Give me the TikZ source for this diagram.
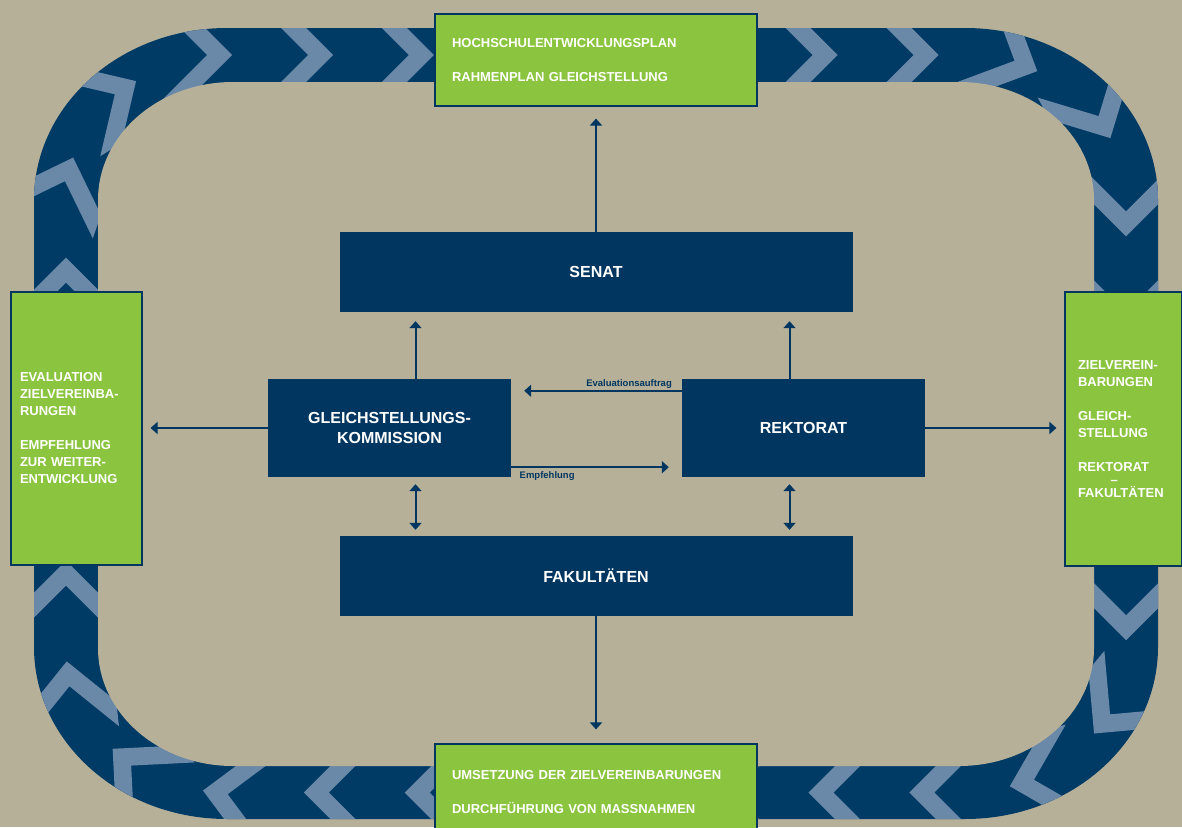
\documentclass[tikz,border=0pt]{standalone}
\usepackage{fontspec}
\setmainfont{Liberation Sans}
\usetikzlibrary{arrows.meta,decorations.markings}

\definecolor{sand}{RGB}{183,176,153}
\definecolor{navy}{RGB}{0,54,96}
\definecolor{ringblue}{RGB}{0,59,101}
\definecolor{chevblue}{RGB}{106,136,168}
\definecolor{leaf}{RGB}{139,197,63}

\tikzset{
  darkbox/.style={fill=navy, text=white, inner sep=0pt, align=center, font=\bfseries\fontsize{16}{20}\selectfont},
  greenbox/.style={fill=leaf, draw=navy, line width=1.2pt, text=white, align=left, inner ysep=0pt, font=\bfseries\fontsize{13}{17}\selectfont},
  arr/.style={draw=navy, line width=2pt, -{Triangle[length=7pt,width=12pt]}},
  dblarr/.style={draw=navy, line width=2pt, {Triangle[length=7pt,width=12pt]}-{Triangle[length=7pt,width=12pt]}},
  smalltext/.style={text=navy, font=\bfseries\fontsize{9.5}{11}\selectfont, inner sep=0pt},
  chevron/.style={fill=chevblue}
}

\begin{document}
\begin{tikzpicture}[x=1pt,y=-1pt]
\useasboundingbox (0,0) rectangle (1182,827);
\fill[sand] (0,0) rectangle (1182,827);

% ring with chevrons
\begin{scope}
\clip (227,28) -- (965,28) arc[start angle=-90,end angle=0,x radius=193,y radius=172] -- (1158,647) arc[start angle=0,end angle=90,x radius=193,y radius=172] -- (227,819) arc[start angle=90,end angle=180,x radius=193,y radius=172] -- (34,200) arc[start angle=180,end angle=270,x radius=193,y radius=172] -- cycle;
\fill[ringblue] (0,0) rectangle (1182,827);
\path[decorate, decoration={markings, mark=between positions 0 and 0.99 step 0.030303 with {\fill[chevron] (-45,45) -- (0,0) -- (-45,-45) -- (-70,-45) -- (-25,0) -- (-70,45) -- cycle;}}]
  (333,55) -- (962,55) arc[start angle=-90,end angle=0,x radius=164,y radius=145] -- (1126,647.5) arc[start angle=0,end angle=90,x radius=164,y radius=145] -- (230,792.5) arc[start angle=90,end angle=180,x radius=164,y radius=145] -- (66,200) arc[start angle=180,end angle=270,x radius=164,y radius=145] -- (333,55);
\end{scope}
\fill[sand] (233,82) -- (959,82) arc[start angle=-90,end angle=0,x radius=135,y radius=118] -- (1094,648) arc[start angle=0,end angle=90,x radius=135,y radius=118] -- (233,766) arc[start angle=90,end angle=180,x radius=135,y radius=118] -- (98,200) arc[start angle=180,end angle=270,x radius=135,y radius=118] -- cycle;

% green boxes
\node[greenbox, text width=288pt, inner xsep=17pt, minimum height=92pt] (plan) at (596,60)
  {HOCHSCHULENTWICKLUNGSPLAN\\[17pt]RAHMENPLAN GLEICHSTELLUNG};
\node[greenbox, text width=288pt, inner xsep=17pt, minimum height=96pt] (umsetzung) at (596,792)
  {UMSETZUNG DER ZIELVEREINBARUNGEN\\[17pt]DURCHFÜHRUNG VON MASSNAHMEN};
\node[greenbox, text width=113pt, inner xsep=9pt, minimum height=273pt] (evaluation) at (76.5,428.5)
  {EVALUATION\\ZIELVEREINBA-\\RUNGEN\\[17pt]EMPFEHLUNG\\ZUR WEITER-\\ENTWICKLUNG};
\node[greenbox, text width=91pt, inner xsep=13pt, minimum height=274pt] (ziel) at (1123.5,429)
  {ZIELVEREIN-\\BARUNGEN\\[17pt]GLEICH-\\STELLUNG\\[17pt]REKTORAT\\[-4pt]\hspace*{32.5pt}--\\[-4pt]FAKULTÄTEN};

% dark boxes
\node[darkbox, minimum width=513pt, minimum height=80pt] (senat) at (596,272) {SENAT};
\node[darkbox, minimum width=513pt, minimum height=80pt] (fak) at (596,576) {FAKULTÄTEN};
\node[darkbox, minimum width=243pt, minimum height=98pt] (gk) at (389.5,428) {GLEICHSTELLUNGS-\\KOMMISSION};
\node[darkbox, minimum width=243pt, minimum height=98pt] (rektorat) at (803.5,428) {REKTORAT};

% arrows
\draw[arr, shorten >=12pt] (senat.north) -- (plan.south);
\draw[arr, shorten >=14pt] (fak.south) -- (umsetzung.north);

\coordinate (gkup) at ([xshift=26pt]gk.north);
\coordinate (gkdn) at ([xshift=26pt]gk.south);
\coordinate (rkup) at ([xshift=-14pt]rektorat.north);
\coordinate (rkdn) at ([xshift=-14pt]rektorat.south);
\draw[arr, shorten >=9pt] (gkup) -- (gkup |- senat.south);
\draw[arr, shorten >=9pt] (rkup) -- (rkup |- senat.south);
\draw[dblarr, shorten <=7pt, shorten >=6pt] (gkdn) -- (gkdn |- fak.north);
\draw[dblarr, shorten <=7pt, shorten >=6pt] (rkdn) -- (rkdn |- fak.north);

\coordinate (evstart) at ([yshift=-12pt]rektorat.north west);
\coordinate (emstart) at ([yshift=10pt]gk.south east);
\draw[arr, shorten >=13pt] (evstart) -- (evstart -| gk.east)
  node[smalltext, pos=0, anchor=base east, xshift=-9pt, yshift=4.5pt] {Evaluationsauftrag};
\draw[arr, shorten >=13pt] (emstart) -- (emstart -| rektorat.west)
  node[smalltext, pos=0, anchor=base west, xshift=7.5pt, yshift=-11.5pt] {Empfehlung};

\draw[arr, shorten >=8pt] (gk.west) -- (gk.west -| evaluation.east);
\draw[arr, shorten >=8pt] (rektorat.east) -- (rektorat.east -| ziel.west);

\end{tikzpicture}
\end{document}
